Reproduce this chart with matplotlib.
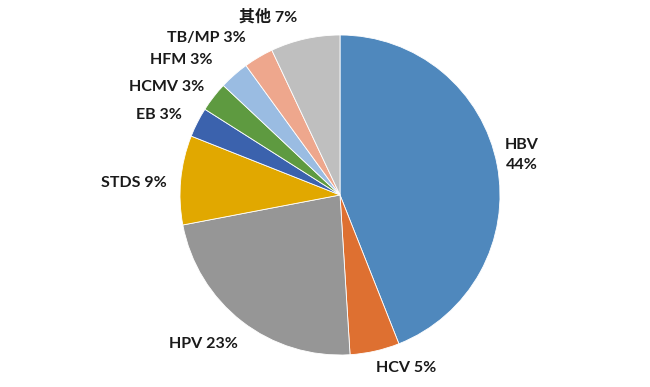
import matplotlib.pyplot as plt

plt.rcParams['font.family'] = ['Lato', 'Noto Sans CJK SC', 'DejaVu Sans']

labels = ['HBV', 'HCV', 'HPV', 'STDS', 'EB', 'HCMV', 'HFM', 'TB/MP', '其他']
values = [44, 5, 23, 9, 3, 3, 3, 3, 7]
colors = ['#4F88BD', '#DE7031', '#969696', '#E1A800', '#3B62AD',
          '#5E9A40', '#9ABCE2', '#EEA78D', '#BFBFBF']

# label positions in pixels (x, y from top)
label_pos = [(522, 155), (406, 368), (203, 344), (134, 183), (159, 115),
             (167, 87), (181, 60), (206, 38), (268, 17)]

W, H = 650, 387
fig = plt.figure(figsize=(6.5, 3.87), dpi=100)
ax = fig.add_axes([0, 0, 1, 1])

ax.pie(values, colors=colors, startangle=90, counterclock=False,
       center=(340, H - 195), radius=160, frame=True,
       wedgeprops=dict(edgecolor='white', linewidth=0.6))
ax.set_xlim(0, W)
ax.set_ylim(0, H)
ax.set_aspect('equal')
ax.axis('off')

for lab, v, (px, py) in zip(labels, values, label_pos):
    if lab == 'HBV':
        txt = f'{lab}\n{v}%'
    else:
        txt = f'{lab} {v}%'
    ax.text(px, H - py, txt, ha='center', va='center', fontsize=11.5,
            fontweight='bold', color='#1a1a1a', linespacing=1.6)

fig.savefig('out.png', dpi=100)
